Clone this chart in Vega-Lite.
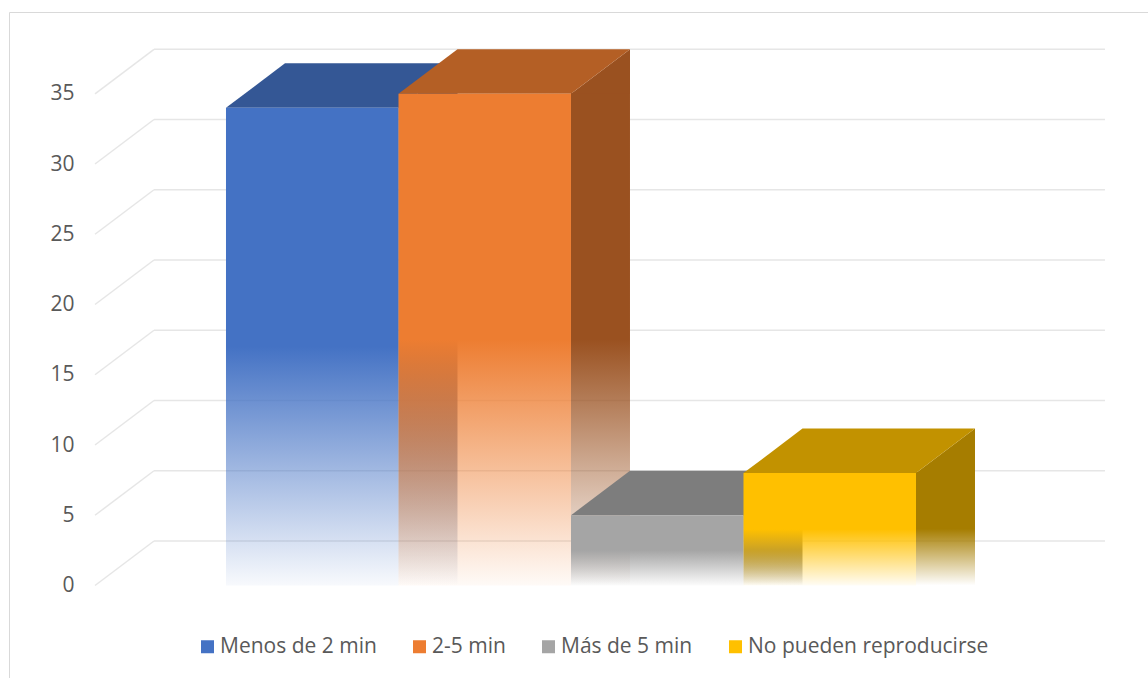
{
  "$schema": "https://vega.github.io/schema/vega-lite/v6.json",
  "width": 1139,
  "height": 666,
  "autosize": {"type": "none"},
  "padding": {"left": 9, "top": 12, "right": 0, "bottom": 0},
  "background": "white",
  "datasets": {
    "bars": [
      {"cat": "Menos de 2 min", "n": 34},
      {"cat": "2-5 min", "n": 35},
      {"cat": "Más de 5 min", "n": 5},
      {"cat": "No pueden reproducirse", "n": 8}
    ],
    "grid": [
      {"g": 0}, {"g": 5}, {"g": 10}, {"g": 15}, {"g": 20}, {"g": 25}, {"g": 30}, {"g": 35}
    ]
  },
  "layer": [
    {
      "data": {"name": "grid"},
      "layer": [
        {
          "mark": {"type": "rule", "color": "#e6e6e6", "strokeWidth": 1.5, "xOffset": 59, "x2Offset": 59, "yOffset": -44.5},
          "encoding": {
            "x": {"datum": 0, "type": "quantitative", "scale": {"domain": [-0.09043, 1.10726]}, "axis": null},
            "x2": {"datum": 1},
            "y": {"field": "g", "type": "quantitative", "title": null,
                  "scale": {"domain": [-6.584, 40.821], "nice": false, "zero": false},
                  "axis": {"values": [0, 5, 10, 15, 20, 25, 30, 35]}}
          }
        },
        {
          "mark": {"type": "rule", "color": "#e6e6e6", "strokeWidth": 1.5, "x2Offset": 59, "y2Offset": -44.5},
          "encoding": {
            "x": {"datum": 0, "type": "quantitative", "scale": {"domain": [-0.09043, 1.10726]}, "axis": null},
            "x2": {"datum": 0},
            "y": {"field": "g", "type": "quantitative", "title": null},
            "y2": {"field": "g"}
          }
        }
      ]
    },
    {
      "data": {"name": "bars"},
      "resolve": {"scale": {"fill": "independent"}},
      "encoding": {
        "x": {"field": "cat", "type": "nominal", "sort": null, "axis": null,
              "scale": {"type": "band", "domain": ["_izq", "Menos de 2 min", "2-5 min", "Más de 5 min", "No pueden reproducirse", "_der"], "paddingInner": 0, "paddingOuter": 0.3014, "align": 0.4278}},
        "y": {"field": "n", "type": "quantitative", "title": null}
      },
      "layer": [
        {
          "transform": [{"filter": "datum.cat === 'Menos de 2 min'"}],
          "mark": {"type": "bar", "width": 59, "xOffset": 115.75, "yOffset": -1,
                   "fill": {"gradient": "linear", "x1": 0, "y1": 0, "x2": 0, "y2": 1, "stops": [{"offset": 0, "color": "#2C4A7F"}, {"offset": 0.5, "color": "#2C4A7F"}, {"offset": 1, "color": "rgba(44,74,127,0)"}]}},
          "encoding": {"y2": {"datum": 0}}
        },
        {
          "transform": [{"filter": "datum.cat === '2-5 min'"}],
          "mark": {"type": "bar", "width": 59, "xOffset": 115.75, "yOffset": -1,
                   "fill": {"gradient": "linear", "x1": 0, "y1": 0, "x2": 0, "y2": 1, "stops": [{"offset": 0, "color": "#9A5120"}, {"offset": 0.5, "color": "#9A5120"}, {"offset": 1, "color": "rgba(154,81,32,0)"}]}},
          "encoding": {"y2": {"datum": 0}}
        },
        {
          "transform": [{"filter": "datum.cat === 'Más de 5 min'"}],
          "mark": {"type": "bar", "width": 59, "xOffset": 115.75, "yOffset": -1,
                   "fill": {"gradient": "linear", "x1": 0, "y1": 0, "x2": 0, "y2": 1, "stops": [{"offset": 0, "color": "#6B6B6B"}, {"offset": 0.5, "color": "#6B6B6B"}, {"offset": 1, "color": "rgba(107,107,107,0)"}]}},
          "encoding": {"y2": {"datum": 0}}
        },
        {
          "transform": [{"filter": "datum.cat === 'No pueden reproducirse'"}],
          "mark": {"type": "bar", "width": 59, "xOffset": 115.75, "yOffset": -1,
                   "fill": {"gradient": "linear", "x1": 0, "y1": 0, "x2": 0, "y2": 1, "stops": [{"offset": 0, "color": "#A67D00"}, {"offset": 0.5, "color": "#A67D00"}, {"offset": 1, "color": "rgba(166,125,0,0)"}]}},
          "encoding": {"y2": {"datum": 0}}
        },
        {
          "mark": {"type": "point", "shape": "M0,0L59,-44.5L59,0Z", "size": 4, "filled": true, "opacity": 1, "strokeWidth": 0},
          "encoding": {
            "x": {"field": "cat", "type": "nominal", "sort": null, "axis": null, "bandPosition": 1,
                  "scale": {"type": "band", "domain": ["_izq", "Menos de 2 min", "2-5 min", "Más de 5 min", "No pueden reproducirse", "_der"], "paddingInner": 0, "paddingOuter": 0.3014, "align": 0.4278}},
            "fill": {"field": "cat", "type": "nominal", "legend": null,
                     "scale": {"domain": ["Menos de 2 min", "2-5 min", "Más de 5 min", "No pueden reproducirse"],
                               "range": ["#2C4A7F", "#9A5120", "#6B6B6B", "#A67D00"]}}
          }
        },
        {
          "mark": {"type": "point", "shape": "M0,0L172.5,0L231.5,-44.5L59,-44.5Z", "size": 4, "filled": true, "opacity": 1, "strokeWidth": 0},
          "encoding": {
            "x": {"field": "cat", "type": "nominal", "sort": null, "axis": null, "bandPosition": 0,
                  "scale": {"type": "band", "domain": ["_izq", "Menos de 2 min", "2-5 min", "Más de 5 min", "No pueden reproducirse", "_der"], "paddingInner": 0, "paddingOuter": 0.3014, "align": 0.4278}},
            "fill": {"field": "cat", "type": "nominal", "legend": null,
                     "scale": {"domain": ["Menos de 2 min", "2-5 min", "Más de 5 min", "No pueden reproducirse"],
                               "range": ["#345795", "#B45F25", "#7D7D7D", "#C29200"]}}
          }
        },
        {
          "transform": [{"filter": "datum.cat === 'Menos de 2 min'"}],
          "mark": {"type": "bar",
                   "fill": {"gradient": "linear", "x1": 0, "y1": 0, "x2": 0, "y2": 1, "stops": [{"offset": 0, "color": "#4472C4"}, {"offset": 0.5, "color": "#4472C4"}, {"offset": 1, "color": "rgba(68,114,196,0.04)"}]}},
          "encoding": {"y2": {"datum": 0}}
        },
        {
          "transform": [{"filter": "datum.cat === '2-5 min'"}],
          "mark": {"type": "bar",
                   "fill": {"gradient": "linear", "x1": 0, "y1": 0, "x2": 0, "y2": 1, "stops": [{"offset": 0, "color": "#ED7D31"}, {"offset": 0.5, "color": "#ED7D31"}, {"offset": 1, "color": "rgba(237,125,49,0.04)"}]}},
          "encoding": {"y2": {"datum": 0}}
        },
        {
          "transform": [{"filter": "datum.cat === 'Más de 5 min'"}],
          "mark": {"type": "bar",
                   "fill": {"gradient": "linear", "x1": 0, "y1": 0, "x2": 0, "y2": 1, "stops": [{"offset": 0, "color": "#A5A5A5"}, {"offset": 0.5, "color": "#A5A5A5"}, {"offset": 1, "color": "rgba(165,165,165,0.04)"}]}},
          "encoding": {"y2": {"datum": 0}}
        },
        {
          "transform": [{"filter": "datum.cat === 'No pueden reproducirse'"}],
          "mark": {"type": "bar",
                   "fill": {"gradient": "linear", "x1": 0, "y1": 0, "x2": 0, "y2": 1, "stops": [{"offset": 0, "color": "#FFC000"}, {"offset": 0.5, "color": "#FFC000"}, {"offset": 1, "color": "rgba(255,192,0,0.04)"}]}},
          "encoding": {"y2": {"datum": 0}}
        },
        {
          "mark": {"type": "bar", "opacity": 0},
          "encoding": {
            "y2": {"datum": 0},
            "color": {"field": "cat", "type": "nominal",
                      "scale": {"domain": ["Menos de 2 min", "2-5 min", "Más de 5 min", "No pueden reproducirse"],
                                "range": ["#4472C4", "#ED7D31", "#A5A5A5", "#FFC000"]},
                      "legend": {"orient": "none", "legendX": 188, "legendY": 624, "direction": "horizontal", "title": null,
                                 "symbolType": "square", "symbolSize": 169, "symbolStrokeWidth": 0, "symbolOpacity": 1,
                                 "labelFont": "Open Sans", "labelFontSize": 21, "labelColor": "#595959", "labelLimit": 0,
                                 "columnPadding": 32, "labelOffset": 2, "padding": 0,
                                 "encode": {"symbols": {"update": {"fill": {"signal": "datum.value === 'Menos de 2 min' ? {gradient: 'linear', x1: 0, y1: 0, x2: 0, y2: 1, stops: [{offset: 0, color: '#4472C4'}, {offset: 0.55, color: '#4472C4'}, {offset: 1, color: 'rgba(68,114,196,0.05)'}]} : datum.value === '2-5 min' ? {gradient: 'linear', x1: 0, y1: 0, x2: 0, y2: 1, stops: [{offset: 0, color: '#ED7D31'}, {offset: 0.55, color: '#ED7D31'}, {offset: 1, color: 'rgba(237,125,49,0.05)'}]} : datum.value === 'Más de 5 min' ? {gradient: 'linear', x1: 0, y1: 0, x2: 0, y2: 1, stops: [{offset: 0, color: '#A5A5A5'}, {offset: 0.55, color: '#A5A5A5'}, {offset: 1, color: 'rgba(165,165,165,0.05)'}]} : {gradient: 'linear', x1: 0, y1: 0, x2: 0, y2: 1, stops: [{offset: 0, color: '#FFC000'}, {offset: 0.55, color: '#FFC000'}, {offset: 1, color: 'rgba(255,192,0,0.05)'}]}"}, "opacity": {"value": 1}}}}}}
          }
        }
      ]
    }
  ],
  "resolve": {"scale": {"x": "independent"}},
  "config": {
    "view": {"stroke": "#d9d9d9", "strokeWidth": 1},
    "axis": {"grid": false, "domain": false, "ticks": false, "tickSize": 0},
    "axisY": {"offset": -86, "labelPadding": 21, "labelFont": "Open Sans", "labelFontSize": 21, "labelColor": "#595959"}
  }
}
